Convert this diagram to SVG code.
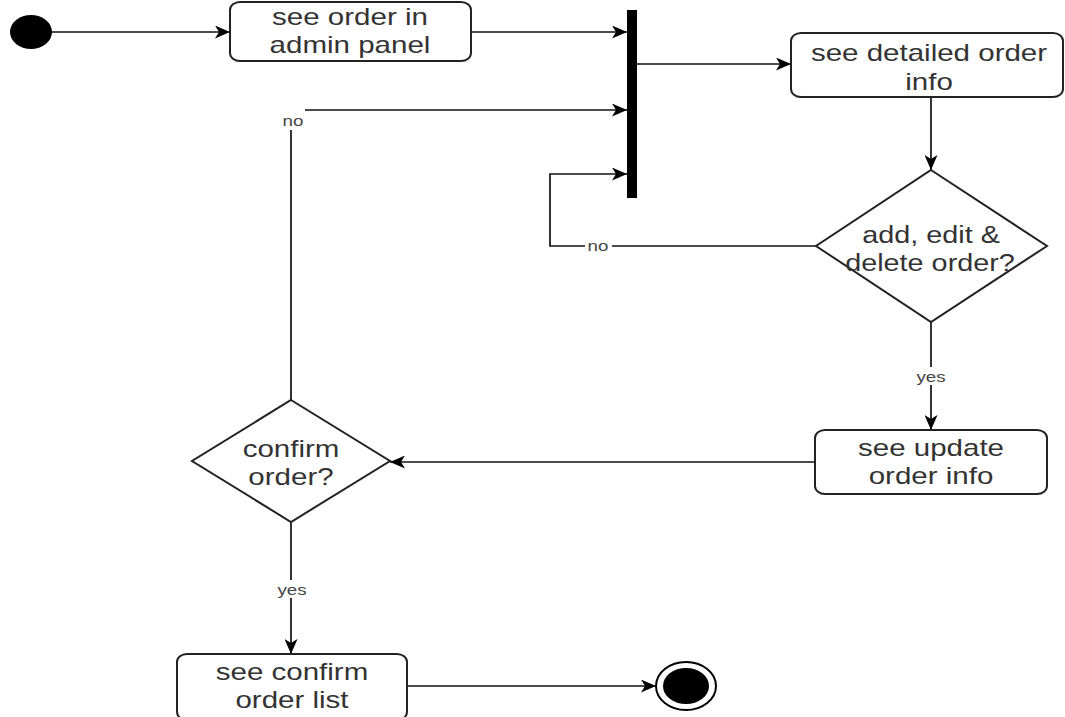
<svg xmlns="http://www.w3.org/2000/svg" width="1065" height="717" viewBox="0 0 1065 717">
<defs>
<marker id="arr" markerUnits="userSpaceOnUse" markerWidth="16" markerHeight="13" refX="15" refY="6.5" orient="auto">
<path d="M0,0 L15,6.5 L0,13 L4,6.5 z" fill="#000"/>
</marker>
</defs>
<style>
.node{fill:#fff;stroke:#222;stroke-width:2}
.t{font-family:"Liberation Sans",Arial,sans-serif;font-size:24px;fill:#333;text-anchor:middle}
.lbl{font-family:"Liberation Sans",Arial,sans-serif;font-size:15px;fill:#444;text-anchor:middle}
.edge{fill:none;stroke:#111;stroke-width:1.7;marker-end:url(#arr)}
</style>
<rect width="1065" height="717" fill="#fff"/>
<g id="connectors">
<path class="edge" d="M52,32 H230"/>
<path class="edge" d="M471,32 H627"/>
<path class="edge" d="M637,64 H791"/>
<path class="edge" d="M931,97 V170"/>
<path class="edge" d="M816,246 H550 V174 H627"/>
<path class="edge" d="M931,322 V430"/>
<path class="edge" d="M815,462 H390"/>
<path class="edge" d="M291,400 V110 H627"/>
<path class="edge" d="M291,522 V654"/>
<path class="edge" d="M407,686 H656"/>
<rect x="585" y="237" width="27" height="18" fill="#fff"/>
<text class="lbl" transform="matrix(1.25 0 0 1 598 251)">no</text>
<rect x="915" y="367" width="32" height="18" fill="#fff"/>
<text class="lbl" transform="matrix(1.25 0 0 1 931 382)">yes</text>
<rect x="278" y="109" width="27" height="21" fill="#fff"/>
<text class="lbl" transform="matrix(1.25 0 0 1 293 126)">no</text>
<rect x="276" y="580" width="32" height="18" fill="#fff"/>
<text class="lbl" transform="matrix(1.25 0 0 1 292 595)">yes</text>
</g>
<g id="start"><ellipse cx="31" cy="32" rx="21" ry="17" fill="#000"/></g>
<g id="see-order-admin">
<rect class="node" x="230" y="2" width="241" height="59" rx="10" ry="8"/>
<text class="t" transform="matrix(1.23 0 0 1 350 25)">see order in</text>
<text class="t" transform="matrix(1.23 0 0 1 350 53)">admin panel</text>
</g>
<g id="fork-bar"><rect x="627" y="10" width="10" height="188" fill="#000"/></g>
<g id="see-detailed-order">
<rect class="node" x="791" y="33" width="272" height="64" rx="10" ry="8"/>
<text class="t" transform="matrix(1.23 0 0 1 929 61)">see detailed order</text>
<text class="t" transform="matrix(1.23 0 0 1 929 90)">info</text>
</g>
<g id="add-edit-delete">
<polygon class="node" points="931,170 1047,246 931,322 816,246"/>
<text class="t" transform="matrix(1.2 0 0 1 931 243)">add, edit &amp;</text>
<text class="t" transform="matrix(1.2 0 0 1 930 271)">delete order?</text>
</g>
<g id="see-update-order">
<rect class="node" x="815" y="430" width="232" height="64" rx="10" ry="8"/>
<text class="t" transform="matrix(1.23 0 0 1 931 456)">see update</text>
<text class="t" transform="matrix(1.23 0 0 1 931 484)">order info</text>
</g>
<g id="confirm-order">
<polygon class="node" points="291,400 390,461 291,522 192,461"/>
<text class="t" transform="matrix(1.23 0 0 1 291 457)">confirm</text>
<text class="t" transform="matrix(1.23 0 0 1 291 485)">order?</text>
</g>
<g id="see-confirm-list">
<rect class="node" x="177" y="654" width="230" height="66" rx="10" ry="8"/>
<text class="t" transform="matrix(1.23 0 0 1 292 680)">see confirm</text>
<text class="t" transform="matrix(1.23 0 0 1 292 708)">order list</text>
</g>
<g id="end">
<ellipse cx="686" cy="686" rx="30" ry="24" fill="#fff" stroke="#000" stroke-width="2"/>
<ellipse cx="686" cy="686" rx="23" ry="18" fill="#000"/>
</g>
</svg>
